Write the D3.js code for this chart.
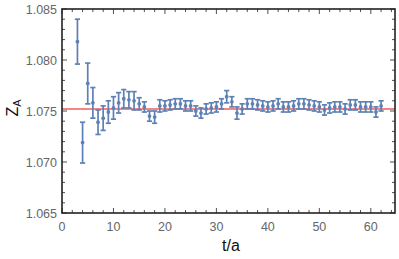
<!DOCTYPE html>
<html>
<head>
<meta charset="utf-8">
<script src="https://cdn.jsdelivr.net/npm/d3@7"></script>
<style>
    html, body { margin: 0; padding: 0; background: #fff; }
    svg { display: block; }
</style>
</head>
<body>
<div id="chart"></div>
<script>
// data
var tValues = [3, 4, 5, 6, 7, 8, 9, 10, 11, 12, 13, 14, 15, 16, 17, 18, 19, 20,
    21, 22, 23, 24, 25, 26, 27, 28, 29, 30, 31, 32, 33, 34, 35, 36, 37, 38, 39, 40,
    41, 42, 43, 44, 45, 46, 47, 48, 49, 50, 51, 52, 53, 54, 55, 56, 57, 58, 59, 60,
    61, 62];

var zValues = [1.0818, 1.0719, 1.0777, 1.0758, 1.0739, 1.0743, 1.0749, 1.0753,
    1.0758, 1.0762, 1.0761, 1.0760, 1.0757, 1.0754, 1.0745, 1.0744, 1.0755, 1.0755,
    1.0756, 1.0757, 1.0757, 1.0755, 1.0755, 1.0750, 1.0748, 1.0752, 1.0753, 1.0754,
    1.0757, 1.0764, 1.0759, 1.0748, 1.0752, 1.0757, 1.0757, 1.0756, 1.0755, 1.0754,
    1.0755, 1.0757, 1.0754, 1.0754, 1.0755, 1.0757, 1.0757, 1.0756, 1.0755, 1.0754,
    1.0751, 1.0753, 1.0754, 1.0754, 1.0752, 1.0756, 1.0756, 1.0754, 1.0754, 1.0754,
    1.0749, 1.0755];

var zErrors = [0.0022, 0.0020, 0.0020, 0.0015, 0.0012, 0.0012, 0.0011, 0.0011,
    0.0010, 0.0009, 0.0008, 0.0009, 0.0006, 0.0005, 0.0005, 0.0006, 0.0006, 0.0005,
    0.0005, 0.0005, 0.0005, 0.0005, 0.0005, 0.0005, 0.0005, 0.0005, 0.0005, 0.0005,
    0.0005, 0.0006, 0.0005, 0.0006, 0.0005, 0.0005, 0.0005, 0.0005, 0.0005, 0.0005,
    0.0005, 0.0005, 0.0005, 0.0005, 0.0005, 0.0005, 0.0005, 0.0005, 0.0005, 0.0005,
    0.0005, 0.0005, 0.0005, 0.0005, 0.0005, 0.0005, 0.0005, 0.0005, 0.0005, 0.0005,
    0.0005, 0.0005];

var fitValue = 1.0752;

var xTicks = [0, 10, 20, 30, 40, 50, 60];
var yTicks = [1.065, 1.070, 1.075, 1.080, 1.085];
var xDomain = [0, 64.7];
var yDomain = [1.065, 1.085];

var width = 399;
var height = 259;
var margin = { top: 9, right: 4, bottom: 46, left: 62 };

var colors = {
    points: "#5e81b5",
    fit: "#f25c5c",
    frame: "#222",
    tickLabel: "#666"
};

var data = tValues.map((t, i) => ({ t: t, z: zValues[i], err: zErrors[i] }));

var svg = d3.select("#chart").append("svg")
    .attr("width", width)
    .attr("height", height)
    .attr("viewBox", [0, 0, width, height]);

// scales
var xScale = d3.scaleLinear()
    .domain(xDomain)
    .range([margin.left, width - margin.right]);
var yScale = d3.scaleLinear()
    .domain(yDomain)
    .range([height - margin.bottom, margin.top]);

var plotLeft = margin.left;
var plotRight = width - margin.right;
var plotTop = margin.top;
var plotBottom = height - margin.bottom;

// minor ticks
var xMinor = d3.range(0, 65, 2).filter(v => v % 10 != 0);
var yMinor = d3.range(0, 21).map(i => 1.065 + i * 0.001).filter((v, i) => i % 5 != 0);

var ticks = svg.append("g")
    .attr("stroke", colors.frame)
    .attr("stroke-width", 0.8);

// bottom + top ticks
[[plotBottom, -1], [plotTop, 1]].forEach(([y0, dir]) => {
    ticks.selectAll(null)
        .data(xTicks)
        .join("line")
        .attr("x1", d => xScale(d)).attr("x2", d => xScale(d))
        .attr("y1", y0).attr("y2", y0 + dir * 5);
    ticks.selectAll(null)
        .data(xMinor)
        .join("line")
        .attr("x1", d => xScale(d)).attr("x2", d => xScale(d))
        .attr("y1", y0).attr("y2", y0 + dir * 3);
});

// left + right ticks
[[plotLeft, 1], [plotRight, -1]].forEach(([x0, dir]) => {
    ticks.selectAll(null)
        .data(yTicks)
        .join("line")
        .attr("y1", d => yScale(d)).attr("y2", d => yScale(d))
        .attr("x1", x0).attr("x2", x0 + dir * 5);
    ticks.selectAll(null)
        .data(yMinor)
        .join("line")
        .attr("y1", d => yScale(d)).attr("y2", d => yScale(d))
        .attr("x1", x0).attr("x2", x0 + dir * 3);
});

// tick labels
svg.append("g")
    .selectAll("text")
    .data(xTicks)
    .join("text")
    .attr("x", d => xScale(d))
    .attr("y", plotBottom + 18)
    .attr("text-anchor", "middle")
    .attr("font-family", "Liberation Sans, Arial, sans-serif")
    .attr("font-size", 12.5)
    .attr("fill", colors.tickLabel)
    .text(d => d);

svg.append("g")
    .selectAll("text")
    .data(yTicks)
    .join("text")
    .attr("x", plotLeft - 5)
    .attr("y", d => yScale(d) + 4.5)
    .attr("text-anchor", "end")
    .attr("font-family", "Liberation Sans, Arial, sans-serif")
    .attr("font-size", 12.5)
    .attr("fill", colors.tickLabel)
    .text(d => d3.format(".3f")(d));

// fit line
svg.append("line")
    .attr("x1", plotLeft)
    .attr("x2", plotRight)
    .attr("y1", yScale(fitValue))
    .attr("y2", yScale(fitValue))
    .attr("stroke", colors.fit)
    .attr("stroke-width", 1.5);

// error bars
var bars = svg.append("g")
    .attr("stroke", colors.points)
    .attr("stroke-width", 1.7);

bars.selectAll(".err")
    .data(data)
    .join("line")
    .attr("class", "err")
    .attr("x1", d => xScale(d.t)).attr("x2", d => xScale(d.t))
    .attr("y1", d => yScale(d.z - d.err))
    .attr("y2", d => yScale(d.z + d.err));

bars.selectAll(".capTop")
    .data(data)
    .join("line")
    .attr("class", "capTop")
    .attr("x1", d => xScale(d.t) - 2.6).attr("x2", d => xScale(d.t) + 2.6)
    .attr("y1", d => yScale(d.z + d.err))
    .attr("y2", d => yScale(d.z + d.err));

bars.selectAll(".capBottom")
    .data(data)
    .join("line")
    .attr("class", "capBottom")
    .attr("x1", d => xScale(d.t) - 2.6).attr("x2", d => xScale(d.t) + 2.6)
    .attr("y1", d => yScale(d.z - d.err))
    .attr("y2", d => yScale(d.z - d.err));

// points
svg.append("g")
    .selectAll("circle")
    .data(data)
    .join("circle")
    .attr("cx", d => xScale(d.t))
    .attr("cy", d => yScale(d.z))
    .attr("r", 1.9)
    .attr("fill", colors.points);

// frame
svg.append("rect")
    .attr("x", plotLeft)
    .attr("y", plotTop)
    .attr("width", plotRight - plotLeft)
    .attr("height", plotBottom - plotTop)
    .attr("fill", "none")
    .attr("stroke", colors.frame)
    .attr("stroke-width", 1.6);

// axis labels
svg.append("text")
    .attr("x", 231)
    .attr("y", height - 8)
    .attr("text-anchor", "middle")
    .attr("font-family", "Liberation Sans, Arial, sans-serif")
    .attr("font-size", 16)
    .attr("fill", "#111")
    .text("t/a");

var yLabel = svg.append("text")
    .attr("transform", `translate(18, 108) rotate(-90)`)
    .attr("text-anchor", "middle")
    .attr("font-family", "Liberation Sans, Arial, sans-serif")
    .attr("font-size", 16)
    .attr("fill", "#111");
yLabel.append("tspan").text("Z");
yLabel.append("tspan")
    .attr("font-size", 11)
    .attr("dy", 3)
    .text("A");
</script>
</body>
</html>
